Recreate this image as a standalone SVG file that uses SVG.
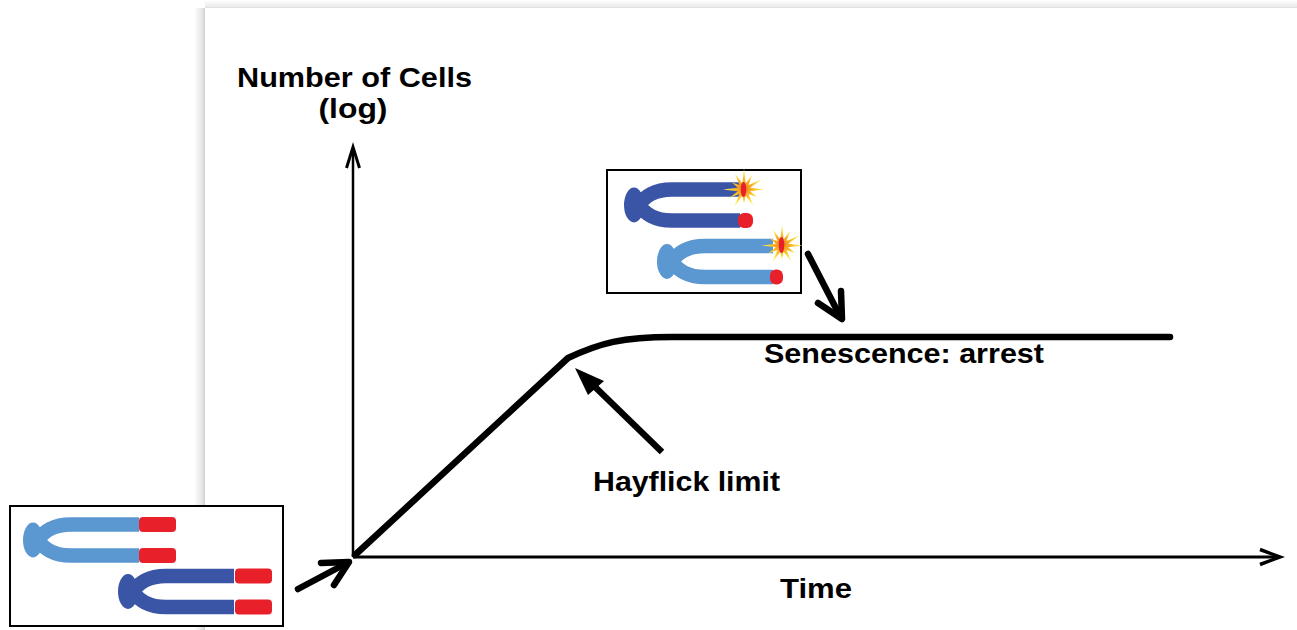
<svg xmlns="http://www.w3.org/2000/svg" width="1297" height="630" viewBox="0 0 1297 630">
  <style>
    .lbl { font-family: "Liberation Sans", Arial, Helvetica, sans-serif; font-weight: bold; font-size: 27px; fill: #000; }
    .axis { stroke: #000; fill: none; stroke-linecap: butt; }
    .chev { stroke: #000; fill: none; stroke-linejoin: miter; }
    .thick { stroke: #000; fill: none; stroke-width: 6.5; stroke-linecap: round; stroke-linejoin: round; }
    .box { fill: #fff; stroke: #000; stroke-width: 2; }
    .light { color: #5b97d1; }
    .dark { color: #3a55a6; }
    .telo { fill: #e8202a; }
  </style>
  <defs>
    <linearGradient id="shadeLeft" x1="0" y1="0" x2="1" y2="0">
      <stop offset="0" stop-color="#ffffff"/>
      <stop offset="0.8" stop-color="#e2e2e2"/>
      <stop offset="1" stop-color="#cdcdcd"/>
    </linearGradient>
    <linearGradient id="shadeTop" x1="0" y1="0" x2="0" y2="1">
      <stop offset="0" stop-color="#ffffff"/>
      <stop offset="0.8" stop-color="#ececec"/>
      <stop offset="1" stop-color="#dedede"/>
    </linearGradient>
    <radialGradient id="burst" cx="0.5" cy="0.5" r="0.5">
      <stop offset="0" stop-color="#ee7d1a"/>
      <stop offset="0.35" stop-color="#f6ae26"/>
      <stop offset="0.75" stop-color="#fde23a"/>
      <stop offset="1" stop-color="#fff3a0"/>
    </radialGradient>
    <!-- chromosome body: centromere knob plus two sister arms, coloured by currentColor -->
    <g id="chromBody">
      <path d="M116,-15.5 H48 C30,-15.5 22,-9 14,0 C22,9 30,15.5 48,15.5 H116" fill="none" stroke="currentColor" stroke-width="14.5" stroke-linejoin="round"/>
      <ellipse cx="10" cy="0" rx="10" ry="17.5" fill="currentColor"/>
    </g>
    <polygon id="star" points="21,0 6.2,1.65 13,7.5 4.5,4.5 9.5,16.5 1.65,6.2 0,14 -1.65,6.2 -10,17.5 -4.5,4.5 -14,8 -6.2,1.65 -21,0 -6.2,-1.65 -12,-7 -4.5,-4.5 -9,-15.6 -1.65,-6.2 0,-21 1.65,-6.2 8,-14 4.5,-4.5 17.5,-10 6.2,-1.65" fill="url(#burst)"/>
  </defs>

  <!-- page background with soft edge shading -->
  <g id="page">
    <rect x="0" y="0" width="1297" height="630" fill="#ffffff"/>
    <rect x="194" y="8" width="11" height="622" fill="url(#shadeLeft)"/>
    <rect x="205" y="0" width="1092" height="8" fill="url(#shadeTop)"/>
  </g>

  <!-- axes -->
  <g id="axes">
    <line class="axis" x1="353" y1="149" x2="353" y2="557" stroke-width="2.5"/>
    <polyline class="chev" points="346.5,168 353,147 359.5,168" stroke-width="3"/>
    <line class="axis" x1="353" y1="557" x2="1279" y2="557" stroke-width="3.2"/>
    <polyline class="chev" points="1260,549.5 1280,557 1260,564.5" stroke-width="3.5"/>
  </g>

  <!-- growth curve -->
  <g id="growth-curve">
    <path class="thick" d="M355,555 L568,358 C600,343 622,337 672,337 L1170,337" stroke-linecap="butt"/>
  </g>

  <!-- labels -->
  <g id="label-y">
    <text class="lbl" x="354.5" y="87" text-anchor="middle" textLength="235" lengthAdjust="spacingAndGlyphs">Number of Cells</text>
    <text class="lbl" x="353" y="118" text-anchor="middle" textLength="69" lengthAdjust="spacingAndGlyphs">(log)</text>
  </g>
  <g id="label-x">
    <text class="lbl" x="780" y="598" textLength="72" lengthAdjust="spacingAndGlyphs">Time</text>
  </g>
  <g id="label-senescence">
    <text class="lbl" x="764" y="363" textLength="280" lengthAdjust="spacingAndGlyphs">Senescence: arrest</text>
  </g>
  <g id="label-hayflick">
    <text class="lbl" x="593" y="491" textLength="187" lengthAdjust="spacingAndGlyphs">Hayflick limit</text>
  </g>

  <!-- young cells: long telomeres -->
  <g id="young-cells">
    <rect class="box" x="10" y="506" width="273" height="120"/>
    <g class="light" transform="translate(23,540)">
      <use href="#chromBody"/>
      <rect class="telo" x="116" y="-23" width="37" height="15" rx="4"/>
      <rect class="telo" x="116" y="8" width="37" height="15" rx="4"/>
    </g>
    <g class="dark" transform="translate(118,591.5)">
      <use href="#chromBody"/>
      <rect class="telo" x="117" y="-23" width="37" height="15" rx="4"/>
      <rect class="telo" x="117" y="8" width="37" height="15" rx="4"/>
    </g>
  </g>

  <!-- senescent cells: short, damaged telomeres -->
  <g id="senescent-cells">
    <rect class="box" x="607" y="170" width="194" height="123"/>
    <g class="dark" transform="translate(624,205)">
      <use href="#chromBody"/>
      <rect class="telo" x="114" y="8" width="15" height="15" rx="6"/>
      <use href="#star" transform="translate(120,-15.5)"/>
      <ellipse class="telo" cx="119.5" cy="-15.5" rx="2.8" ry="7.5"/>
    </g>
    <g class="light" transform="translate(657,261.5)">
      <use href="#chromBody"/>
      <rect class="telo" x="113" y="8" width="13" height="15" rx="6"/>
      <use href="#star" transform="translate(125,-16)"/>
      <ellipse class="telo" cx="124.5" cy="-16.5" rx="2.8" ry="8"/>
    </g>
  </g>

  <!-- pointer arrows -->
  <g id="connectors">
    <g id="arrow-young">
      <line class="thick" x1="298" y1="589" x2="347" y2="563"/>
      <polyline class="thick" points="321,563 349,562 334,585"/>
    </g>
    <g id="arrow-senescent">
      <line class="thick" x1="808" y1="254" x2="841" y2="318"/>
      <polyline class="thick" points="818,303 842,319 841,291"/>
    </g>
    <g id="arrow-hayflick">
      <line x1="662" y1="452" x2="592" y2="384" stroke="#000" stroke-width="6.5"/>
      <polygon points="575,368 604,381 588,395" fill="#000"/>
    </g>
  </g>
</svg>
